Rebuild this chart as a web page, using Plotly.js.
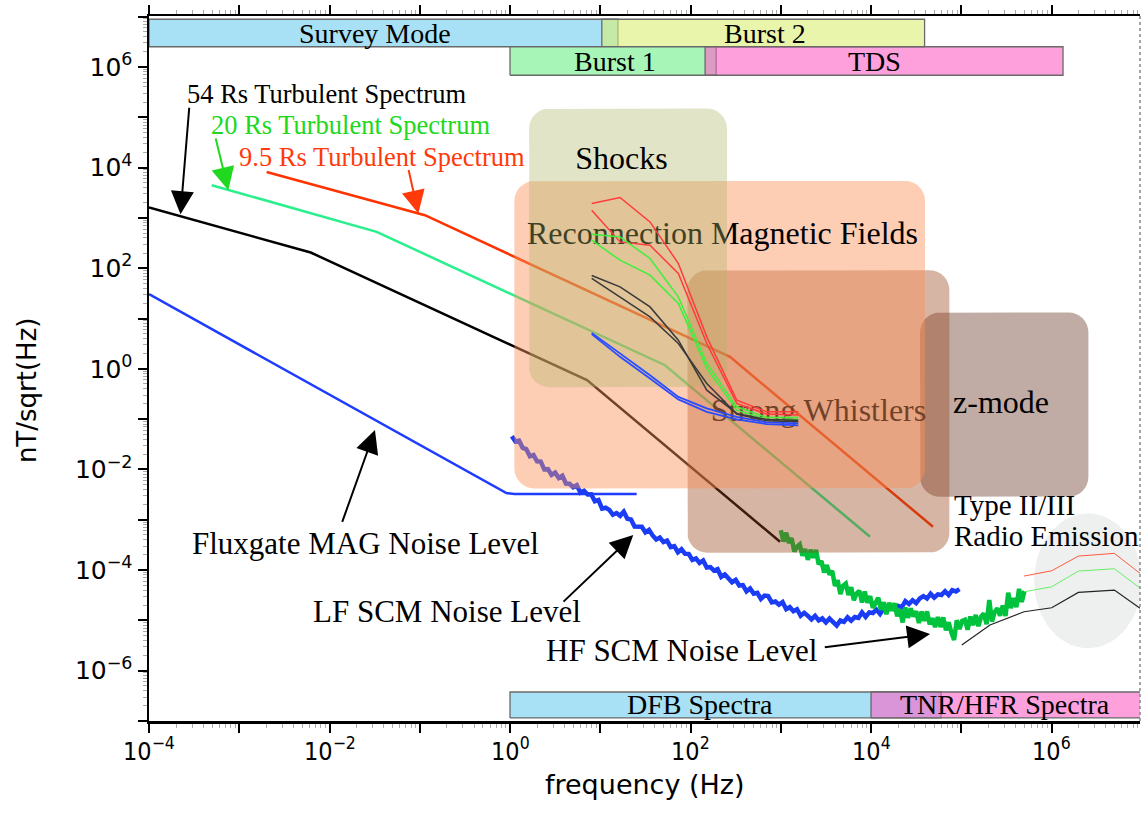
<!DOCTYPE html>
<html><head><meta charset="utf-8">
<script src="https://cdn.plot.ly/plotly-3.0.1.min.js"></script>
<style>html,body{margin:0;padding:0;background:#fff}</style>
</head><body><div id="chart" style="width:1141px;height:819px"></div>
<script>
// ---------------- DATA ----------------
// Turbulent spectra (Hz, nT/sqrt(Hz))
const turb54F = [1e-4, 6.19e-3, 7.13, 982];
const turb54B = [1607, 205, 0.596, 3.65e-4];
const turb20F = [4.95e-4, 0.0333, 52.1, 9750];
const turb20B = [4467, 527, 1.18, 4.59e-4];
const turb95F = [2.01e-3, 0.114, 274, 48600];
const turb95B = [8200, 1130, 1.73, 7.24e-4];
// Fluxgate MAG noise level
const fgmF = [1e-4, 0.759, 0.912, 1.122, 25.3];
const fgmB = [30.5, 4.07e-3, 3.39e-3, 3.24e-3, 3.24e-3];

// LF SCM noise level (log10 f, log10 B)
const lfLogF = [0.02,0.06,0.10,0.14,0.18,0.22,0.26,0.30,0.34,0.38,0.42,0.46,0.50,0.54,0.58,0.62,0.66,0.70,0.74,0.78,0.82,0.86,0.90,0.94,0.98,1.02,1.06,1.10,1.14,1.18,1.22,1.26,1.30,1.34,1.38,1.42,1.46,1.50,1.54,1.58,1.62,1.66,1.70,1.74,1.78,1.82,1.86,1.90,1.94,1.98,2.02,2.06,2.10,2.14,2.18,2.22,2.26,2.30,2.34,2.38,2.42,2.46,2.50,2.54,2.58,2.62,2.66,2.70,2.74,2.78,2.82,2.86,2.90,2.94,2.98,3.02,3.06,3.10,3.14,3.18,3.22,3.26,3.30,3.34,3.38,3.42,3.46,3.50,3.54,3.58,3.62,3.66,3.70,3.74,3.78,3.82,3.86,3.90,3.94,3.98,4.02,4.06,4.10,4.14,4.18,4.22,4.26,4.30,4.34,4.38,4.42,4.46,4.50,4.54,4.58,4.62,4.66,4.70,4.74,4.78,4.82,4.86,4.90,4.94,4.98];
const lfLogB = [-1.339,-1.443,-1.427,-1.571,-1.594,-1.739,-1.714,-1.839,-1.844,-1.999,-1.994,-2.109,
  -2.064,-2.170,-2.125,-2.280,-2.285,-2.355,-2.313,-2.462,-2.423,-2.499,-2.495,-2.631,
  -2.608,-2.779,-2.761,-2.803,-2.901,-2.867,-2.922,-2.839,-2.981,-2.993,-3.134,-3.129,
  -3.140,-3.250,-3.201,-3.312,-3.392,-3.353,-3.443,-3.414,-3.545,-3.525,-3.646,-3.586,
  -3.677,-3.678,-3.798,-3.769,-3.859,-3.810,-3.951,-3.941,-4.012,-3.983,-4.134,-4.086,
  -4.159,-4.242,-4.194,-4.307,-4.299,-4.422,-4.366,-4.468,-4.451,-4.573,-4.506,-4.518,
  -4.641,-4.624,-4.686,-4.637,-4.778,-4.738,-4.819,-4.779,-4.910,-4.850,-4.911,-4.981,
  -4.910,-5.001,-4.961,-5.042,-4.963,-5.023,-5.104,-5.003,-5.030,-4.938,-5.006,-4.934,
  -4.953,-4.842,-4.931,-4.840,-4.853,-4.787,-4.872,-4.766,-4.801,-4.715,-4.777,-4.713,
  -4.740,-4.617,-4.674,-4.600,-4.657,-4.564,-4.520,-4.567,-4.472,-4.547,-4.482,-4.496,
  -4.421,-4.496,-4.401,-4.425,-4.380];
// HF SCM noise level (log10 f, log10 B)
const hfLogF = [3.00,3.03,3.06,3.09,3.12,3.15,3.18,3.21,3.24,3.27,3.30,3.33,3.36,3.39,3.42,3.45,3.48,3.51,3.54,3.57,3.60,3.63,3.66,3.69,3.72,3.75,3.78,3.81,3.84,3.87,3.90,3.93,3.96,3.99,4.02,4.05,4.08,4.11,4.14,4.17,4.20,4.23,4.26,4.29,4.32,4.35,4.38,4.41,4.44,4.47,4.50,4.53,4.56,4.59,4.62,4.65,4.68,4.71,4.74,4.77,4.80,4.83,4.86,4.89,4.92,4.95,4.98,5.01,5.04,5.07,5.10,5.13,5.16,5.19,5.22,5.25,5.28,5.31,5.34,5.37,5.40,5.43,5.46,5.49,5.52,5.55,5.58,5.61,5.64,5.67,5.70];
const hfLogB = [-3.209,-3.433,-3.258,-3.462,-3.367,-3.631,-3.537,-3.490,-3.713,-3.584,
  -3.796,-3.597,-3.758,-3.600,-3.888,-3.819,-4.050,-3.901,-4.089,-4.017,
  -4.315,-4.203,-4.476,-4.312,-4.269,-4.496,-4.343,-4.599,-4.466,-4.413,
  -4.646,-4.427,-4.648,-4.519,-4.751,-4.632,-4.552,-4.791,-4.641,-4.880,
  -4.649,-4.809,-4.658,-4.917,-4.777,-5.041,-4.744,-4.948,-4.761,-4.925,
  -4.818,-5.051,-4.824,-5.008,-4.822,-5.080,-4.958,-5.136,-4.934,-5.132,
  -4.940,-5.198,-5.038,-5.244,-5.391,-4.998,-5.175,-5.009,-4.987,-5.186,
  -4.924,-5.093,-4.891,-5.116,-4.926,-4.865,-5.075,-4.594,-5.023,-4.832,
  -4.760,-4.907,-4.705,-4.913,-4.451,-4.756,-4.555,-4.735,-4.375,-4.634,
  -4.414];

// Event spectra inside the boxes (log10 f, log10 B)
const evLogF = [0.905, 1.219, 1.551, 1.865, 2.18, 2.512, 2.844, 3.194];
const evRedA = [3.286, 3.405, 2.92, 2.094, 0.635, -0.622, -0.855, -0.855];
const evRedB = [3.153, 2.523, 2.457, 1.895, 0.504, -0.688, -0.9, -0.92];
const evGreenA = [2.676, 2.622, 2.193, 1.43, 0.107, -0.755, -0.966, -0.966];
const evGreenB = [2.557, 2.159, 1.861, 1.299, 0.008, -0.821, -1.006, -1.006];
const evBlackA = [1.854, 1.629, 1.231, 0.57, -0.424, -0.887, -1.006, -1.02];
const evBlackB = [1.796, 1.43, 1.033, 0.504, -0.291, -0.9, -1.033, -1.053];
const evBlueA = [0.715, 0.306, -0.126, -0.557, -0.787, -0.954, -1.065, -1.085];
const evBlueB = [0.689, 0.238, -0.191, -0.608, -0.855, -1.006, -1.099, -1.125];

// Radio emission spectra (log10 f, log10 B)
const radLogF = [5.695, 6.002, 6.297, 6.696, 6.98];
const radRed = [-4.119, -4.014, -3.722, -3.668, -4.066];
const radGreen = [-4.431, -4.332, -4.02, -3.974, -4.358];
const radBlackF = [5.005, 5.318, 5.695, 6.002, 6.297, 6.696, 6.98];
const radBlack = [-5.49, -5.093, -4.829, -4.749, -4.443, -4.397, -4.761];

// Instrument bars
const barNames = ['Survey Mode', 'Burst 2', 'Burst 1', 'TDS', 'DFB Spectra', 'TNR/HFR Spectra'];
const barFmin = [1e-4, 10.4, 1, 145, 1, 1e4];
const barFmax = [15.7, 39200, 192, 1.34e6, 59700, 2e7];
const barBmin = [2.52e6, 2.52e6, 6.84e5, 6.84e5, 1.15e-7, 1.15e-7];
const barBmax = [8.87e6, 8.87e6, 2.52e6, 2.52e6, 3.77e-7, 3.77e-7];
const barLabelF = [0.0319, 670, 14.6, 10800, 127, 3.05e5];
const barLabelB = [4.68e6, 4.68e6, 1.3e6, 1.3e6, 2.09e-7, 2.09e-7];

// Phenomena regions
const regNames = ['z-mode', 'Strong Whistlers', 'Reconnection Magnetic Fields', 'Shocks'];
const regFmin = [34900, 92.3, 1.117, 1.626];
const regFmax = [2.56e6, 73800, 39600, 253.6];
const regBmin = [2.86e-3, 2.21e-4, 4.2e-3, 0.4325];
const regBmax = [13.2, 91.4, 5433, 1.49e5];
const regLabelF = [2.754e5, 2618, 226, 17.2];
const regLabelB = [0.19, 0.1315, 432.5, 13370];
// Type II/III radio region (ellipse extents)
const radioFmin = 6.4e5, radioFmax = 1.0e7, radioBmin = 2.78e-6, radioBmax = 1.34e-3;

// Arrow labels and arrows
const labTexts = ['54 Rs Turbulent Spectrum', '20 Rs Turbulent Spectrum', '9.5 Rs Turbulent Spectrum', 'Fluxgate MAG Noise Level', 'LF SCM Noise Level', 'HF SCM Noise Level'];
const labF = [9.31e-3, 0.01687, 0.0382, 0.02506, 0.2028, 78.5];
const labB = [2.96e5, 71780, 16290, 3.44e-4, 1.53e-5, 2.57e-6];
const arrFromF = [2.8e-4, 5.43e-4, 0.0746, 0.01365, 3.767, 2958];
const arrFromB = [1.656e5, 40640, 9572, 8.47e-4, 2.21e-5, 2.91e-6];
const arrToF = [2.234e-4, 7.57e-4, 0.0964, 0.0319, 23.2, 45080];
const arrToB = [1183, 3548, 1222, 0.0605, 4.95e-4, 5.37e-6];

// Tick exponents
const xTickExp = [-4, -3, -2, -1, 0, 1, 2, 3, 4, 5, 6];
const yTickExp = [-7, -6, -5, -4, -3, -2, -1, 0, 1, 2, 3, 4, 5, 6, 7];

// ---------------- HELPERS ----------------
const XR = [-4, 6.98], YR = [-7.0, 7.013];
const PLOT_W = 991, PLOT_H = 705;
const PX = PLOT_W / (XR[1] - XR[0]), PY = PLOT_H / (YR[1] - YR[0]);
const p10 = v => Math.pow(10, v);
const L = Math.log10;

function roundedRect(f0, f1, b0, b1, r) {
  const x0 = L(f0), x1 = L(f1), y0 = L(b0), y1 = L(b1);
  const rx = r / PX, ry = r / PY;
  const xs = [], ys = [];
  const cs = [[x1 - rx, y1 - ry, 0], [x0 + rx, y1 - ry, 90], [x0 + rx, y0 + ry, 180], [x1 - rx, y0 + ry, 270]];
  for (const [cx, cy, a0] of cs) {
    for (let k = 0; k <= 8; k++) {
      const a = (a0 + k * 90 / 8) * Math.PI / 180;
      xs.push(p10(cx + rx * Math.cos(a))); ys.push(p10(cy + ry * Math.sin(a)));
    }
  }
  xs.push(xs[0]); ys.push(ys[0]);
  return {xs, ys};
}
function ellipse(f0, f1, b0, b1) {
  const cx = (L(f0) + L(f1)) / 2, cy = (L(b0) + L(b1)) / 2;
  const rx = (L(f1) - L(f0)) / 2, ry = (L(b1) - L(b0)) / 2;
  const xs = [], ys = [];
  for (let k = 0; k <= 72; k++) {
    const a = k * 2 * Math.PI / 72;
    xs.push(p10(cx + rx * Math.cos(a))); ys.push(p10(cy + ry * Math.sin(a)));
  }
  return {xs, ys};
}
function rectPoly(f0, f1, b0, b1) {
  return {xs: [f0, f1, f1, f0, f0], ys: [b0, b0, b1, b1, b0]};
}
const traces = [];
function line(x, y, color, width) {
  traces.push({type: 'scatter', mode: 'lines', x, y, line: {color, width}, hoverinfo: 'skip', showlegend: false});
}
function fill(p, fillcolor, lineColor, lineWidth) {
  traces.push({type: 'scatter', mode: 'lines', x: p.xs, y: p.ys, fill: 'toself', fillcolor,
    line: {color: lineColor || 'rgba(0,0,0,0)', width: lineWidth || 0}, hoverinfo: 'skip', showlegend: false});
}
function txt(f, b, s, size, color) {
  traces.push({type: 'scatter', mode: 'text', x: [f], y: [b], text: [s], textposition: 'middle center',
    textfont: {family: 'Liberation Serif', size, color}, hoverinfo: 'skip', showlegend: false, cliponaxis: false});
}

// ---------------- TRACES ----------------
const barFill = ['rgb(168,224,245)', 'rgba(217,238,115,0.6)', 'rgb(168,245,184)', 'rgba(252,97,197,0.6)', 'rgb(168,224,245)', 'rgba(252,97,197,0.6)'];
for (let i = 0; i < barNames.length; i++) {
  fill(rectPoly(barFmin[i], barFmax[i], barBmin[i], barBmax[i]), barFill[i], 'rgb(105,105,105)', 1.3);
}
// turbulent spectra and noise levels
line(turb54F, turb54B, '#000000', 2.5);
line(turb20F, turb20B, '#28f08c', 2.5);
line(turb95F, turb95B, '#ff3300', 2.5);
line(fgmF, fgmB, '#1e3cff', 2.5);
line(lfLogF.map(p10), lfLogB.map(p10), '#1a3cf5', 4.5);
line(hfLogF.map(p10), hfLogB.map(p10), '#00c23c', 4.5);
// radio region
fill(ellipse(radioFmin, radioFmax, radioBmin, radioBmax), '#eef0ef');
line(radLogF.map(p10), radRed.map(p10), '#ff5a3c', 1);
line(radLogF.map(p10), radGreen.map(p10), '#66ee66', 1);
line(radBlackF.map(p10), radBlack.map(p10), '#222222', 1.2);
// regions (z-mode, whistlers, reconnection, shocks)
const regFill = ['rgba(140,104,90,0.55)', 'rgba(155,70,30,0.4)', 'rgba(251,144,89,0.45)', 'rgba(174,180,102,0.36)'];
fill(roundedRect(regFmin[0], regFmax[0], regBmin[0], regBmax[0], 20), regFill[0]);
fill(roundedRect(regFmin[1], regFmax[1], regBmin[1], regBmax[1], 20), regFill[1]);
txt(regLabelF[1], regLabelB[1], regNames[1], 32, '#000');
fill(roundedRect(regFmin[2], regFmax[2], regBmin[2], regBmax[2], 20), regFill[2]);
txt(regLabelF[2], regLabelB[2], regNames[2], 32, '#000');
fill(roundedRect(regFmin[3], regFmax[3], regBmin[3], regBmax[3], 20), regFill[3]);
txt(regLabelF[3], regLabelB[3], regNames[3], 32, '#000');
txt(regLabelF[0], regLabelB[0], regNames[0], 32, '#000');
// event spectra
const evF = evLogF.map(p10);
line(evF, evRedA.map(p10), '#ff3b3b', 1.5);
line(evF, evRedB.map(p10), '#ff3b3b', 1.5);
line(evF, evGreenA.map(p10), '#3cf03c', 1.5);
line(evF, evGreenB.map(p10), '#3cf03c', 1.5);
line(evF, evBlackA.map(p10), '#3a3a3a', 1.5);
line(evF, evBlackB.map(p10), '#3a3a3a', 1.5);
line(evF, evBlueA.map(p10), '#2a4cff', 1.8);
line(evF, evBlueB.map(p10), '#2a4cff', 1.8);

// ---------------- ANNOTATIONS ----------------
const annotations = [];
for (let i = 0; i < barNames.length; i++) {
  annotations.push({x: L(barLabelF[i]), y: L(barLabelB[i]), xref: 'x', yref: 'y', text: barNames[i], showarrow: false,
    xanchor: 'center', yanchor: 'middle', font: {family: 'Liberation Serif', size: 28, color: '#000'}});
}
const labColors = ['#000000', '#20d820', '#ff3a0a', '#000000', '#000000', '#000000'];
const labSizes = [26.5, 26.5, 26.5, 31, 31, 31];
for (let i = 0; i < labTexts.length; i++) {
  annotations.push({x: L(labF[i]), y: L(labB[i]), xref: 'x', yref: 'y', text: labTexts[i], showarrow: false,
    xanchor: 'center', yanchor: 'middle', font: {family: 'Liberation Serif', size: labSizes[i], color: labColors[i]}});
  annotations.push({x: L(arrToF[i]), y: L(arrToB[i]), ax: L(arrFromF[i]), ay: L(arrFromB[i]),
    xref: 'x', yref: 'y', axref: 'x', ayref: 'y', text: '', showarrow: true,
    arrowhead: 2, arrowsize: 2.3, arrowwidth: 2, arrowcolor: labColors[i], standoff: 0});
}
annotations.push({x: L(78900), y: L(1.95e-3), xref: 'x', yref: 'y', text: 'Type II/III', showarrow: false,
  xanchor: 'left', yanchor: 'middle', font: {family: 'Liberation Serif', size: 29, color: '#000'}});
annotations.push({x: L(78900), y: L(4.74e-4), xref: 'x', yref: 'y', text: 'Radio Emission', showarrow: false,
  xanchor: 'left', yanchor: 'middle', font: {family: 'Liberation Serif', size: 29, color: '#000'}});
// axis titles
annotations.push({xref: 'paper', yref: 'paper', x: 0.5, y: -0.090, text: 'frequency (Hz)', showarrow: false,
  xanchor: 'center', yanchor: 'middle', font: {family: 'DejaVu Sans', size: 27, color: '#000'}});
annotations.push({xref: 'paper', yref: 'paper', x: -0.123, y: 0.4695, text: 'nT/sqrt(Hz)', showarrow: false, textangle: -90,
  xanchor: 'center', yanchor: 'middle', font: {family: 'DejaVu Sans', size: 26, color: '#000'}});

const fmtExp = e => (e % 2 === 0) ? ('10<sup>' + (e < 0 ? '\u2212' + (-e) : e) + '</sup>') : '';
// x tick labels (every second decade)
for (const e of xTickExp) {
  if (e % 2 !== 0) continue;
  annotations.push({xref: 'x', yref: 'paper', x: e, y: -0.040, text: fmtExp(e), showarrow: false,
    xanchor: 'center', yanchor: 'middle', font: {family: 'DejaVu Sans Condensed, DejaVu Sans', size: 25, color: '#000'}});
}

const axisCommon = {
  type: 'log', showgrid: false, zeroline: false, showline: true, linecolor: '#000', linewidth: 2.5,
  ticks: 'outside', ticklen: 9, tickwidth: 2, tickcolor: '#000', tickmode: 'array',
  tickfont: {family: 'DejaVu Sans', size: 25, color: '#000'},
  minor: {ticks: 'outside', ticklen: 4, tickwidth: 1, tickcolor: '#aaaaaa', dtick: 'D1', showgrid: false}
};
const layout = {
  width: 1141, height: 819,
  margin: {l: 149, r: 1, t: 16, b: 98},
  paper_bgcolor: '#fff', plot_bgcolor: '#fff',
  showlegend: false,
  xaxis: Object.assign({}, axisCommon, {
    range: XR, mirror: 'ticks', showticklabels: false,
    tickvals: xTickExp.map(p10)
  }),
  yaxis: Object.assign({}, axisCommon, {
    range: YR, mirror: false,
    tickvals: yTickExp.map(p10), ticktext: yTickExp.map(fmtExp)
  }),
  annotations,
  shapes: [{type: 'line', xref: 'paper', yref: 'paper', x0: 1, x1: 1, y0: 0, y1: 1,
    line: {color: '#888', width: 1.5, dash: 'dot'}}]
};
Plotly.newPlot('chart', traces, layout, {staticPlot: true, displayModeBar: false});
</script></body></html>
